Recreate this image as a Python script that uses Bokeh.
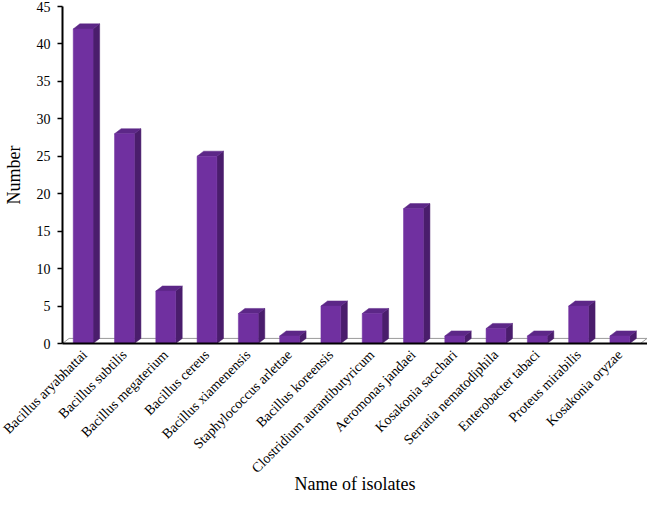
import math
from bokeh.plotting import figure
from bokeh.models import Range1d, FixedTicker, ColumnDataSource
from bokeh.embed import file_html
from bokeh.resources import INLINE

isolates = [
    "Bacillus aryabhattai", "Bacillus subtilis", "Bacillus megaterium",
    "Bacillus cereus", "Bacillus xiamenensis", "Staphylococcus arlettae",
    "Bacillus koreensis", "Clostridium aurantibutyricum", "Aeromonas jandaei",
    "Kosakonia sacchari", "Serratia nematodiphila", "Enterobacter tabaci",
    "Proteus mirabilis", "Kosakonia oryzae",
]
counts = [42, 28, 7, 25, 4, 1, 5, 4, 18, 1, 2, 1, 5, 1]
y_ticks = [0, 5, 10, 15, 20, 25, 30, 35, 40, 45]

FRONT = "#7030A0"
SIDE = "#4A1D6C"
TOP = "#5C2787"
FONT = "Liberation Serif"

n = len(isolates)
bar_w = 0.48
dx = 0.16   # depth offset (x, data units)
dy = 0.68   # depth offset (y, data units)

xc = [i + 0.5 for i in range(n)]
left = [x - bar_w / 2 for x in xc]
right = [x + bar_w / 2 for x in xc]

side_xs = [[r, r + dx, r + dx, r] for r in right]
side_ys = [[0, dy, v + dy, v] for v in counts]
top_xs = [[l, l + dx, r + dx, r] for l, r in zip(left, right)]
top_ys = [[v, v + dy, v + dy, v] for v in counts]

p = figure(width=647, height=497, output_backend="svg", toolbar_location=None,
           x_range=Range1d(0, n + 0.17), y_range=Range1d(0, 45),
           min_border_left=58, min_border_right=0, min_border_top=6,
           min_border_bottom=0)
p.outline_line_color = None
p.xgrid.visible = False
p.ygrid.visible = False

# floor
p.patch([0, dx, n + dx, n], [0, dy, dy, 0], fill_color="white",
        line_color="#9a9a9a", line_width=1)

src = ColumnDataSource(dict(x=xc, top=counts))
p.patches(side_xs, side_ys, fill_color=SIDE, line_color=SIDE, line_width=0.5)
p.patches(top_xs, top_ys, fill_color=TOP, line_color=TOP, line_width=0.5)
p.vbar(x="x", top="top", bottom=0, width=bar_w, source=src,
       fill_color=FRONT, line_color=FRONT, line_width=0.5)

# y axis
p.yaxis.ticker = FixedTicker(ticks=y_ticks)
p.yaxis.minor_tick_line_color = None
p.yaxis.major_tick_out = 5
p.yaxis.major_tick_in = 0
p.yaxis.major_tick_line_color = "black"
p.yaxis.major_tick_line_width = 1.5
p.yaxis.axis_line_color = "black"
p.yaxis.axis_line_width = 2
p.yaxis.major_label_text_font = FONT
p.yaxis.major_label_text_font_size = "14px"
p.yaxis.major_label_text_color = "black"
p.yaxis.major_label_standoff = 7
p.yaxis.axis_label = "Number"
p.yaxis.axis_label_text_font = FONT
p.yaxis.axis_label_text_font_size = "18px"
p.yaxis.axis_label_text_font_style = "normal"
p.yaxis.axis_label_text_color = "black"
p.yaxis.axis_label_standoff = 10

# x axis
p.xaxis.ticker = FixedTicker(ticks=xc)
p.xaxis.major_label_overrides = {x: name for x, name in zip(xc, isolates)}
p.xaxis.major_label_orientation = math.pi / 4
p.xaxis.major_tick_line_color = None
p.xaxis.minor_tick_line_color = None
p.xaxis.axis_line_color = "black"
p.xaxis.axis_line_width = 2
p.xaxis.major_label_text_font = FONT
p.xaxis.major_label_text_font_size = "14px"
p.xaxis.major_label_text_color = "black"
p.xaxis.major_label_standoff = 3
p.xaxis.axis_label = "Name of isolates"
p.xaxis.axis_label_text_font = FONT
p.xaxis.axis_label_text_font_size = "18px"
p.xaxis.axis_label_text_font_style = "normal"
p.xaxis.axis_label_text_color = "black"
p.xaxis.axis_label_standoff = -10

open("out.html", "w").write(file_html(p, INLINE))
